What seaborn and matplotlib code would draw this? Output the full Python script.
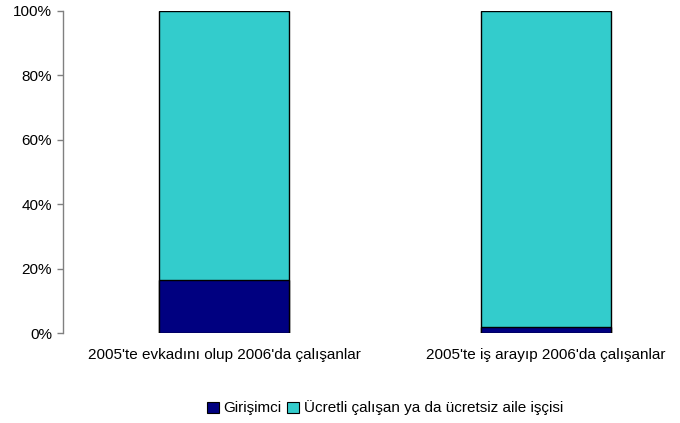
import pandas as pd
import matplotlib.pyplot as plt
import seaborn as sns
from matplotlib.patches import Patch
from matplotlib.ticker import PercentFormatter

kategoriler = ["2005'te evkadını olup 2006'da çalışanlar", "2005'te iş arayıp 2006'da çalışanlar"]
girisimci = [16.5, 2.0]
ucretli = [83.5, 98.0]
seriler = ["Girişimci", "Ücretli çalışan ya da ücretsiz aile işçisi"]
renkler = ["#000080", "#33CCCC"]

df = pd.DataFrame({'kategori': kategoriler, 'girisimci': girisimci, 'ucretli': ucretli})
df['toplam'] = df['girisimci'] + df['ucretli']

sns.set_style('white')
plt.rcParams['font.family'] = ['Liberation Sans', 'DejaVu Sans']
plt.rcParams['text.color'] = 'black'
plt.rcParams['xtick.color'] = 'black'
plt.rcParams['ytick.color'] = 'black'

fig = plt.figure(figsize=(6.8, 4.23), dpi=100)
ax = fig.add_axes([63/680, 90/423, 617/680, 322/423])

# gestapelt: erst Gesamt, dann unterer Teil drüber
sns.barplot(data=df, x='kategori', y='toplam', color=renkler[1], width=0.404,
            edgecolor='black', linewidth=1, saturation=1, ax=ax)
sns.barplot(data=df, x='kategori', y='girisimci', color=renkler[0], width=0.404,
            edgecolor='black', linewidth=1, saturation=1, ax=ax)

ax.set_xlim(-0.5, -0.5 + 617/322)
ax.set_ylim(0, 100)
ax.set_yticks(range(0, 101, 20))
ax.yaxis.set_major_formatter(PercentFormatter(decimals=0))
ax.set_xlabel('')
ax.set_ylabel('')

for s in ['top', 'right', 'bottom']:
    ax.spines[s].set_visible(False)
ax.spines['left'].set_color('#808080')
ax.spines['left'].set_linewidth(1)
ax.tick_params(axis='y', left=True, length=4, width=1, color='#808080', labelsize=11, pad=4)
ax.tick_params(axis='x', bottom=False, labelsize=11, pad=7)

handles = [Patch(facecolor=c, edgecolor='black', linewidth=0.8) for c in renkler]
fig.legend(handles, seriler, loc='center', bbox_to_anchor=(385/680, 1 - 408/423), ncol=2,
           frameon=False, fontsize=11, handlelength=0.75, handleheight=0.75,
           handletextpad=0.3, columnspacing=0.4)

plt.savefig('out.png', dpi=100)
